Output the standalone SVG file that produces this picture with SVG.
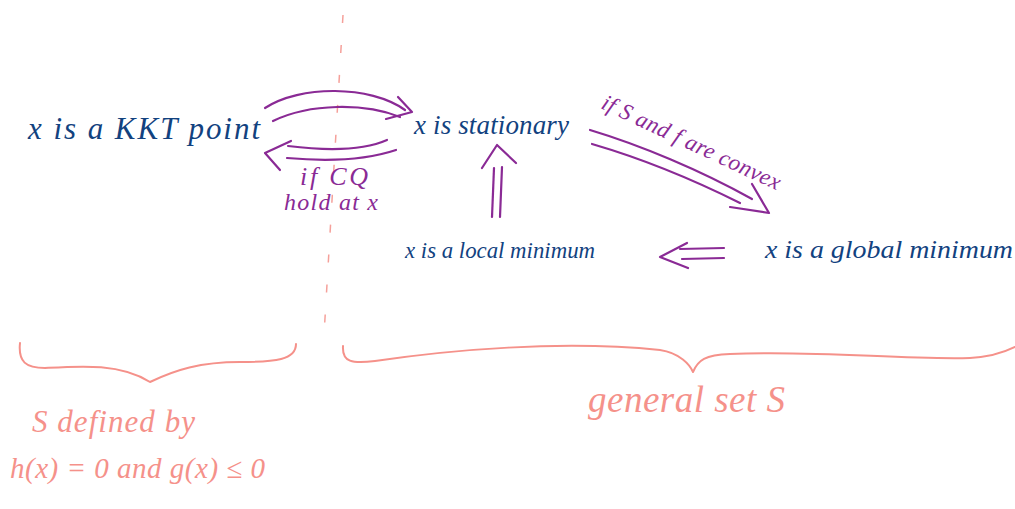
<svg xmlns="http://www.w3.org/2000/svg" width="1015" height="509" viewBox="0 0 1015 509">
<style>
.blue{font-family:"Liberation Serif",serif;font-style:italic;fill:#12427f}
.purp{font-family:"Liberation Serif",serif;font-style:italic;fill:#8a2a95}
.pink{font-family:"Liberation Serif",serif;font-style:italic;fill:#f5918a}
.arr{fill:none;stroke:#8a2a95;stroke-width:2.2;stroke-linecap:round;stroke-linejoin:round}
.br{fill:none;stroke:#f5918a;stroke-width:2;stroke-linecap:round;stroke-linejoin:round}
</style>
<rect width="1015" height="509" fill="#ffffff"/>
<line x1="343" y1="15" x2="324" y2="335" stroke="#f5a09a" stroke-width="1.5" stroke-dasharray="8,22"/>
<g id="kkt"><text class="blue" x="28" y="139" font-size="31" textLength="232" lengthAdjust="spacing">x is a KKT point</text></g>
<g id="stationary"><text class="blue" x="414" y="134" font-size="27" textLength="155" lengthAdjust="spacing">x is stationary</text></g>
<g id="local"><text class="blue" x="405" y="258" font-size="24" textLength="190" lengthAdjust="spacingAndGlyphs">x is a local minimum</text></g>
<g id="global"><text class="blue" x="765" y="258" font-size="26" textLength="248" lengthAdjust="spacingAndGlyphs">x is a global minimum</text></g>
<g id="connectors">
<path class="arr" d="M265,108 C300,85 370,85 405,110"/>
<path class="arr" d="M273,121 C310,103 365,103 400,117"/>
<path class="arr" d="M398,97 L412,112 L386,119"/>
<path class="arr" d="M387,140 C360,152 320,150 288,146"/>
<path class="arr" d="M396,150 C360,162 320,161 287,158"/>
<path class="arr" d="M291,141 L265,153 L280,170"/>
<path class="arr" d="M492,217 L494,168"/>
<path class="arr" d="M500,217 L502,167"/>
<path class="arr" d="M482,168 L497,145 L516,163"/>
<path class="arr" d="M590,130 C640,145 700,170 752,199"/>
<path class="arr" d="M592,144 C640,158 690,178 740,203"/>
<path class="arr" d="M752,184 L769,213 L730,207"/>
<path class="arr" d="M680,249 L724,248"/>
<path class="arr" d="M682,259 L724,258"/>
<path class="arr" d="M687,243 L660,257 L688,268"/>
</g>
<g id="labels">
<text class="purp" x="300" y="185" font-size="26" textLength="68" lengthAdjust="spacing">if CQ</text>
<text class="purp" x="284" y="210" font-size="24" textLength="94" lengthAdjust="spacing">hold at x</text>
<text class="purp" font-size="23" transform="translate(600,108) rotate(25)" textLength="195" lengthAdjust="spacing">if S and f are convex</text>
</g>
<g id="braces">
<path class="br" d="M20,343 C18,362 26,368 45,368 C80,366 120,363 150,382 C175,370 200,362 240,362 C275,362 296,360 296,344"/>
<path class="br" d="M343,346 C342,362 352,364 375,361 C450,350 560,340 660,350 C680,353 690,365 693,372 C698,360 705,355 730,354 C820,350 900,360 970,358 C990,357 1005,352 1015,347"/>
</g>
<g id="notes">
<text class="pink" x="32" y="432" font-size="31" textLength="163" lengthAdjust="spacing">S defined by</text>
<text class="pink" x="10" y="478" font-size="29" textLength="255" lengthAdjust="spacing">h(x) = 0 and g(x) ≤ 0</text>
<text class="pink" x="588" y="412" font-size="37" textLength="197" lengthAdjust="spacing">general set S</text>
</g>
</svg>
